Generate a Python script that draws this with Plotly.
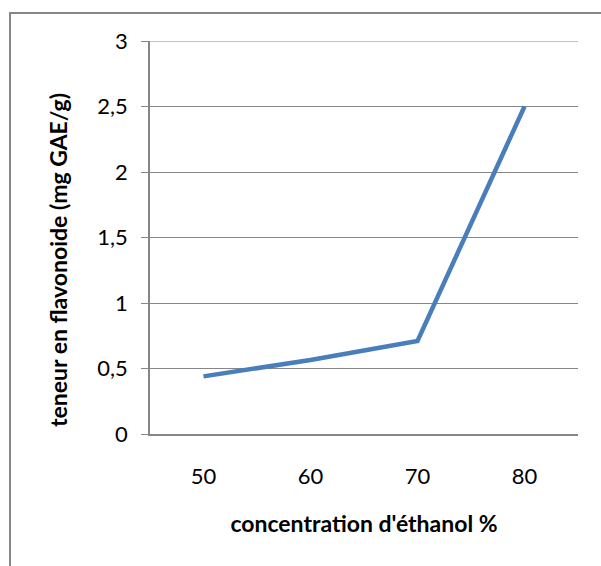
import plotly.graph_objects as go

categories = ["50", "60", "70", "80"]
values = [0.44, 0.565, 0.71, 2.5]
y_ticks = [0, 0.5, 1, 1.5, 2, 2.5, 3]
y_tick_labels = ["0", "0,5", "1", "1,5", "2", "2,5", "3"]
x_title = "concentration d'éthanol %"
y_title = "teneur en flavonoide (mg GAE/g)"

FONT = "Lato, Open Sans, sans-serif"
GRAY = "#868686"

fig = go.Figure()
fig.add_trace(go.Scatter(x=categories, y=values, mode="lines",
                         line=dict(color="#4a7ebb", width=4.5)))

W, H = 601, 566
l, r, t, b = 150, 23, 41, 132
pw, ph = W - l - r, H - t - b

fig.update_layout(
    width=W, height=H,
    margin=dict(l=l, r=r, t=t, b=b),
    paper_bgcolor="white", plot_bgcolor="white",
    showlegend=False,
    font=dict(family=FONT, color="black"),
    xaxis=dict(type="category", range=[-0.5, 3.5], showgrid=False,
               showline=True, linecolor=GRAY, linewidth=1.5,
               ticks="", tickfont=dict(size=22), ticklabelstandoff=22,
               title=dict(text="<b>" + x_title + "</b>",
                          font=dict(size=23), standoff=28)),
    yaxis=dict(range=[0, 3], tickvals=y_ticks, ticktext=y_tick_labels,
               showgrid=True, gridcolor=GRAY, gridwidth=1.2,
               showline=True, linecolor=GRAY, linewidth=1.5,
               ticks="outside", ticklen=7, tickcolor=GRAY,
               tickfont=dict(size=22), zeroline=False, ticklabelstandoff=9),
    annotations=[dict(text="<b>" + y_title + "</b>", textangle=-90,
                      xref="paper", yref="paper",
                      x=(58 - l) / pw, y=(t + ph - 260) / ph,
                      xanchor="center", yanchor="middle", showarrow=False,
                      font=dict(size=23))],
    shapes=[
        dict(type="rect", xref="paper", yref="paper",
             x0=(10 - l) / pw, x1=(620 - l) / pw,
             y0=(t + ph - 600) / ph, y1=(t + ph - 13) / ph,
             line=dict(color=GRAY, width=2), fillcolor="rgba(0,0,0,0)",
             layer="below"),
        dict(type="line", xref="paper", yref="y", x0=0, x1=1,
             y0=y_ticks[-1], y1=y_ticks[-1],
             line=dict(color=GRAY, width=1.2), layer="below"),
    ],
)

fig.write_html("out.html")
